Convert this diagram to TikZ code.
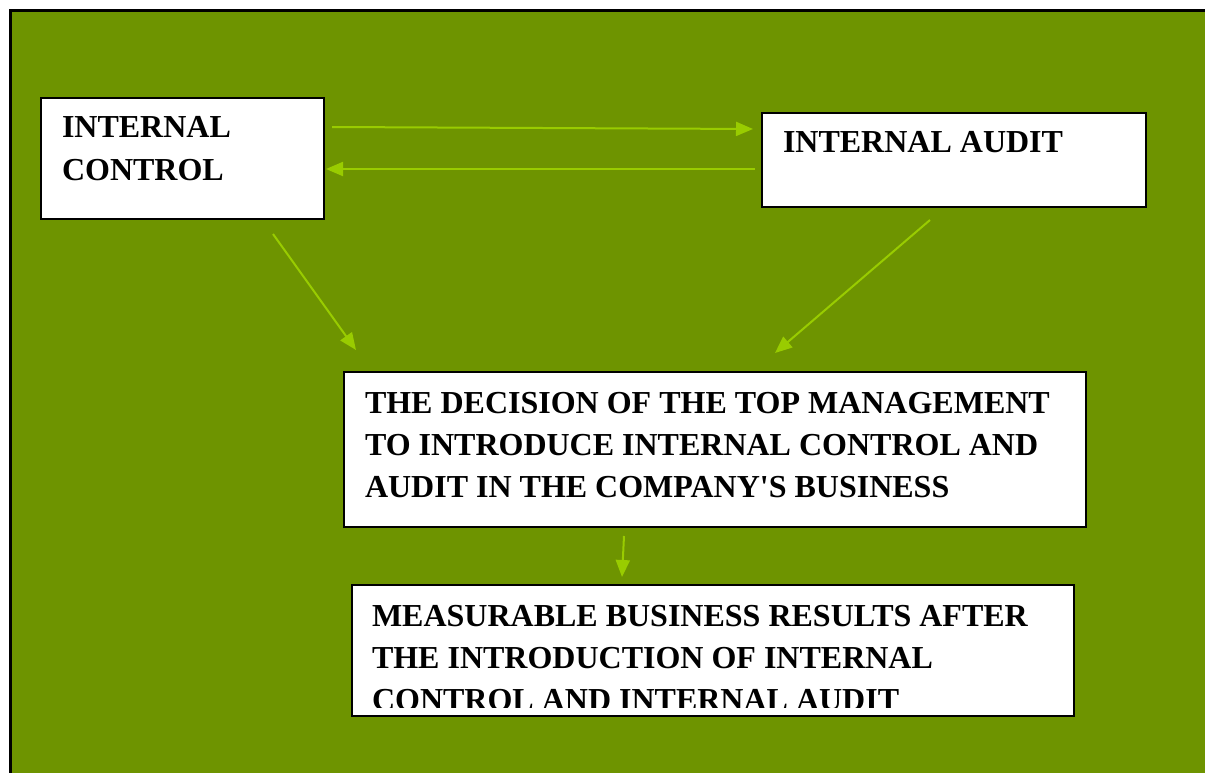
\documentclass[tikz,border=0pt]{standalone}
\usepackage{fontspec}
\setmainfont{Liberation Serif}[Ligatures=TeXOff]
\usetikzlibrary{arrows.meta,calc}
\definecolor{bggreen}{RGB}{110,148,0}
\definecolor{arrowgreen}{RGB}{153,204,0}
\begin{document}
\begin{tikzpicture}[x=1pt,y=-1pt,
  box/.style={draw=black,line width=1.2pt,fill=white,anchor=north west,inner sep=0,outer sep=0},
  txt/.style={anchor=base west,inner sep=0,outer sep=0,font=\fontsize{32}{42}\selectfont\bfseries},
  conn/.style={draw=arrowgreen,line width=2pt,-{Triangle[length=17pt,width=14pt]}}]
\useasboundingbox (0,0) rectangle (1205,773);
\fill[white] (0,0) rectangle (1205,773);
\fill[bggreen] (10.5,10.5) rectangle (1206,774);
\draw[black,line width=2.2pt] (10.5,774) -- (10.5,10.5) -- (1206,10.5);
% boxes
\node[box,minimum width=283,minimum height=121] (ic) at (41,98) {};
\node[box,minimum width=384,minimum height=94] (ia) at (762,113) {};
\node[box,minimum width=742,minimum height=155] (dec) at (344,372) {};
\node[box,minimum width=722,minimum height=131] (res) at (352,585) {};
% texts
\node[txt] (ic1) at (62,138) {INTERNAL};
\node[txt] (ic2) at (62,181) {CONTROL};
\node[txt] (ia1) at (783,153) {INTERNAL AUDIT};
\node[txt] (d1) at (365,413) {THE DECISION OF THE TOP MANAGEMENT};
\node[txt] (d2) at (365,455) {TO INTRODUCE INTERNAL CONTROL AND};
\node[txt] (d3) at (365,497) {AUDIT IN THE COMPANY'S BUSINESS};
\begin{scope}
\clip (352,585) rectangle (1074,707);
\node[txt] (r1) at (372,626) {MEASURABLE BUSINESS RESULTS AFTER};
\node[txt] (r2) at (372,668) {THE INTRODUCTION OF INTERNAL};
\node[txt] (r3) at (372,710) {CONTROL AND INTERNAL AUDIT};
\end{scope}
% connector end points
\coordinate (a1s) at ($(ic.north east)+(8,29)$);
\coordinate (a1e) at ($(ia.north west)+(-9,16)$);
\coordinate (a2s) at ($(ia.north west)+(-7,56)$);
\coordinate (a2e) at ($(ic.north east)+(2,71)$);
\coordinate (a3s) at ($(ic.south east)+(-51,15)$);
\coordinate (a3e) at ($(dec.north west)+(12,-22)$);
\coordinate (a4s) at ($(ia.south west)+(168,13)$);
\coordinate (a4e) at ($(dec.north west)+(431,-19)$);
\coordinate (a5s) at ($(dec.south west)+(280,9)$);
\coordinate (a5e) at ($(res.north west)+(270,-8)$);
\draw[conn] (a1s) -- (a1e);
\draw[conn] (a2s) -- (a2e);
\draw[conn] (a3s) -- (a3e);
\draw[conn] (a4s) -- (a4e);
\draw[conn] (a5s) -- (a5e);
\end{tikzpicture}
\end{document}
